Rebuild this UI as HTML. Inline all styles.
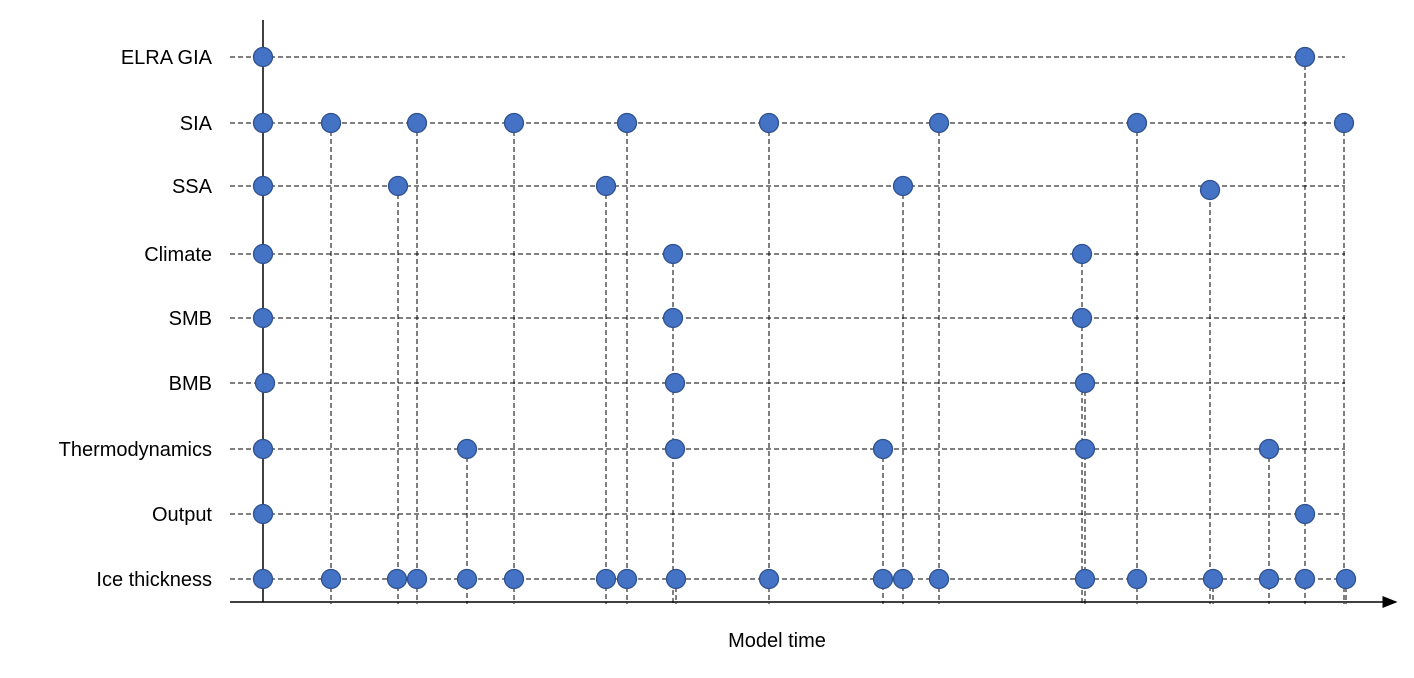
<!DOCTYPE html>
<html><head><meta charset="utf-8"><style>
html,body{margin:0;padding:0;background:#fff;}
svg text{font-family:"Liberation Sans",sans-serif;font-size:20px;fill:#000;}
</style></head><body>
<svg id="chart" width="1414" height="673" viewBox="0 0 1414 673" xmlns="http://www.w3.org/2000/svg">
<defs><marker id="arr" markerWidth="10" markerHeight="8" refX="9" refY="4" orient="auto"><path d="M0,0 L10,4 L0,8 z" fill="#000"/></marker></defs>
<g id="grid"></g><g id="vlines"></g>
<line x1="263" y1="20" x2="263" y2="602" stroke="#000" stroke-width="1.5"/>
<line x1="230" y1="602" x2="1396" y2="602" stroke="#000" stroke-width="1.5" marker-end="url(#arr)"/>
<text x="777" y="647" text-anchor="middle">Model time</text>
<g id="labels"></g><g id="points"></g>
</svg>
<script>
const rows = ["ELRA GIA","SIA","SSA","Climate","SMB","BMB","Thermodynamics","Output","Ice thickness"];
const rowY = [57,123,186,254,318,383,449,514,579];
const t_elra = [0,1042];
const t_sia = [0,68,154,251,364,506,676,874,1081];
const t_ssa = [0,135,343,640,947];
const t_climate = [0,410,819];
const t_smb = [0,410,819];
const t_bmb = [2,412,822];
const t_thermo = [0,204,412,620,822,1006];
const t_output = [0,1042];
const t_ice = [0,68,134,154,204,251,343,364,413,506,620,640,676,822,874,950,1006,1042,1083];
const series = [t_elra,t_sia,t_ssa,t_climate,t_smb,t_bmb,t_thermo,t_output,t_ice];
const NS="http://www.w3.org/2000/svg";
function xs(t){return 263+t;}
function ys(i){return rowY[i];}
const grid=document.getElementById('grid'),vl=document.getElementById('vlines'),lb=document.getElementById('labels'),pts=document.getElementById('points');
rows.forEach((r,i)=>{
  const l=document.createElementNS(NS,'line');
  l.setAttribute('x1',230);l.setAttribute('x2',1345);
  l.setAttribute('y1',ys(i));l.setAttribute('y2',ys(i));
  l.setAttribute('stroke','#000');l.setAttribute('stroke-dasharray','5,3');l.setAttribute('stroke-width','1');
  
  
  grid.appendChild(l);
  const tx=document.createElementNS(NS,'text');
  tx.setAttribute('x',212);tx.setAttribute('y',ys(i)+7);tx.setAttribute('text-anchor','end');
  tx.textContent=r;
  
  
  lb.appendChild(tx);
});
const tops={};
series.forEach((s,i)=>s.forEach(t=>{if(t<=2)return;const k=Math.round(t/3);if(!(k in tops)||tops[k].i>i)tops[k]={i,t};}));
Object.values(tops).forEach(o=>{
  const l=document.createElementNS(NS,'line');
  l.setAttribute('x1',xs(o.t));l.setAttribute('x2',xs(o.t));
  l.setAttribute('y1',ys(o.i));l.setAttribute('y2',604);
  l.setAttribute('stroke','#000');l.setAttribute('stroke-dasharray','5,3');l.setAttribute('stroke-width','1');
  
  
  vl.appendChild(l);
});
series.forEach((s,i)=>s.forEach(t=>{
  const c=document.createElementNS(NS,'circle');
  c.setAttribute('cx',xs(t));c.setAttribute('cy',ys(i)+(i===2&&t>900?4:0));c.setAttribute('r',9.5);
  c.setAttribute('fill','#4472C4');c.setAttribute('stroke','#2F528F');c.setAttribute('stroke-width','1.3');
  
  
  pts.appendChild(c);
}));
</script>
</body></html>
